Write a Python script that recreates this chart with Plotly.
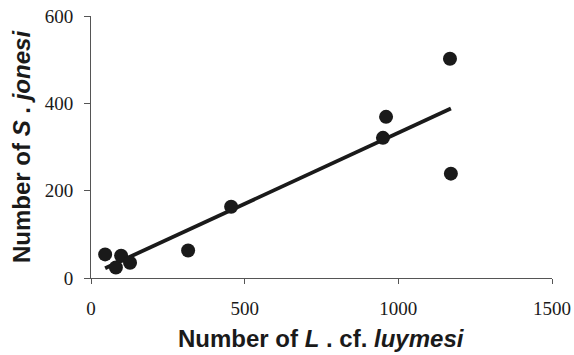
import numpy as np
import plotly.graph_objects as go

# Data
l_luymesi = [46, 81, 98, 127, 316, 456, 950, 960, 1168, 1171]
s_jonesi = [54, 24, 51, 35, 63, 163, 321, 369, 502, 239]

x_ticks = [0, 500, 1000, 1500]
y_ticks = [0, 200, 400, 600]

x_title = "<b>Number of <i>L</i> . cf. <i>luymesi</i></b>"
y_title = "<b>Number of <i>S</i> . <i>jonesi</i></b>"

# Least-squares regression line over the observed range
slope, intercept = np.polyfit(l_luymesi, s_jonesi, 1)
fit_x = [min(l_luymesi), max(l_luymesi)]
fit_y = [slope * v + intercept for v in fit_x]

fig = go.Figure()
fig.add_trace(go.Scatter(
    x=fit_x, y=fit_y, mode="lines",
    line=dict(color="#1a1a1a", width=3.8),
    hoverinfo="skip", showlegend=False,
))
fig.add_trace(go.Scatter(
    x=l_luymesi, y=s_jonesi, mode="markers",
    marker=dict(color="#1a1a1a", size=14, line=dict(width=0)),
    showlegend=False,
))

tick_font = dict(family="Liberation Serif, Times New Roman, serif", size=19, color="#1a1a1a")
title_font = dict(family="Liberation Sans, Arial, sans-serif", size=24, color="#1a1a1a")

fig.update_layout(
    width=574, height=355,
    margin=dict(l=91, r=22, t=16, b=77),
    paper_bgcolor="white", plot_bgcolor="white",
    xaxis=dict(
        range=[0, 1500], tickvals=x_ticks, ticktext=[str(v) for v in x_ticks],
        showgrid=False, zeroline=False, showline=True, linecolor="#555555", linewidth=1,
        ticks="outside", ticklen=5, tickcolor="#555555", tickfont=tick_font,
        ticklabelstandoff=8, ticklabeloverflow="allow", automargin=False,
    ),
    yaxis=dict(
        range=[0, 600], tickvals=y_ticks, ticktext=[str(v) for v in y_ticks],
        showgrid=False, zeroline=False, showline=True, linecolor="#555555", linewidth=1,
        ticks="outside", ticklen=6, tickcolor="#555555", tickfont=tick_font,
        ticklabelstandoff=7, ticklabeloverflow="allow", automargin=False,
    ),
    annotations=[
        dict(text=x_title, xref="paper", yref="paper", x=0.5, y=0,
             xanchor="center", yanchor="middle", yshift=-60, showarrow=False, font=title_font),
        dict(text=y_title, xref="paper", yref="paper", x=0, y=0.5, textangle=-90,
             xanchor="center", yanchor="middle", xshift=-70, showarrow=False, font=title_font),
    ],
)

# Remove the default page margin so the figure fills the window exactly
fig.write_html(
    "out.html",
    config={"displayModeBar": False},
    post_script="document.body.style.margin='0px';document.body.style.overflow='hidden';",
)
